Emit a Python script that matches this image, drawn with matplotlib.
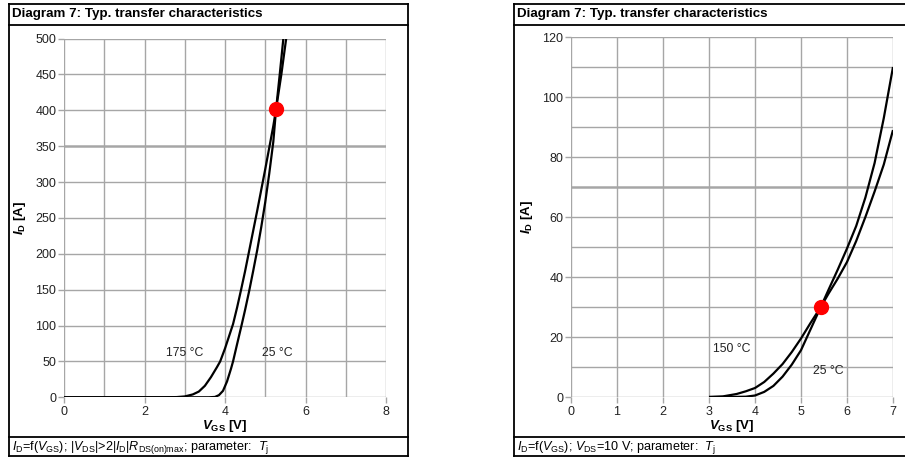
import matplotlib
matplotlib.use("Agg")
import matplotlib.pyplot as plt
from matplotlib.lines import Line2D

plt.rcParams['font.family'] = ['Liberation Sans', 'DejaVu Sans']
plt.rcParams['mathtext.fontset'] = 'custom'
plt.rcParams['mathtext.rm'] = 'Liberation Sans'
plt.rcParams['mathtext.it'] = 'Liberation Sans:italic'
plt.rcParams['mathtext.bf'] = 'Liberation Sans:bold'
plt.rcParams['mathtext.bfit'] = 'Liberation Sans:bold:italic'

# ---------------- data: left diagram ----------------
title = "Diagram 7: Typ. transfer characteristics"
l_vgs_25 = [0, 3.0, 3.6, 3.75, 3.85, 3.95, 4.05, 4.15, 4.2, 4.3, 4.41, 4.5, 4.6, 4.7, 4.8, 4.9, 5.0, 5.1, 5.2, 5.27, 5.36, 5.45]
l_id_25 = [0, 0, 0, 0.5, 3, 9, 22, 40, 50, 74, 100, 122, 148, 176, 205, 237, 272, 312, 356, 402, 450, 500]
l_vgs_175 = [0, 2.5, 2.8, 3.0, 3.2, 3.35, 3.5, 3.65, 3.8, 3.88, 4.0, 4.1, 4.2, 4.3, 4.4, 4.5, 4.6, 4.7, 4.8, 4.9, 5.0, 5.1, 5.2, 5.27, 5.4, 5.52]
l_id_175 = [0, 0, 0.3, 1.2, 4, 8, 16, 28, 42, 50, 68, 85, 102, 125, 150, 176, 204, 232, 260, 289, 318, 348, 378, 402, 450, 500]
l_dot = (5.27, 402)
l_xticks = [0, 2, 4, 6, 8]
l_yticks = [0, 50, 100, 150, 200, 250, 300, 350, 400, 450, 500]
l_labels = [("175 °C", 3.0, 62), ("25 °C", 5.3, 62)]
l_footer = r"$\mathit{I}_{\mathrm{D}}$=f($\mathit{V}_{\mathrm{GS}}$); |$\mathit{V}_{\mathrm{DS}}$|>2|$\mathit{I}_{\mathrm{D}}$|$\mathit{R}_{\mathrm{DS(on)max}}$; parameter:  $\mathit{T}_{\mathrm{j}}$"

# ---------------- data: right diagram ----------------
r_vgs_25 = [3.0, 3.5, 3.8, 4.0, 4.2, 4.4, 4.6, 4.8, 5.0, 5.2, 5.43, 5.6, 5.8, 6.0, 6.2, 6.4, 6.6, 6.8, 7.0]
r_id_25 = [0, 0.02, 0.1, 0.5, 1.7, 3.7, 6.8, 10.8, 15.6, 22.3, 30, 35.8, 42.5, 49.5, 57, 66.5, 78, 93, 110]
r_vgs_150 = [3.0, 3.3, 3.6, 3.8, 4.0, 4.2, 4.4, 4.6, 4.8, 5.0, 5.2, 5.43, 5.6, 5.8, 6.0, 6.2, 6.4, 6.6, 6.8, 7.0]
r_id_150 = [0, 0.2, 1.0, 1.9, 3.0, 5.0, 7.8, 11, 15, 19.5, 24.5, 30, 34.5, 39.5, 45, 52, 60, 68.5, 77.5, 89]
r_dot = (5.43, 30)
r_xticks = [0, 1, 2, 3, 4, 5, 6, 7]
r_yticks = [0, 20, 40, 60, 80, 100, 120]
r_labels = [("150 °C", 3.5, 16), ("25 °C", 5.6, 8.8)]
r_footer = r"$\mathit{I}_{\mathrm{D}}$=f($\mathit{V}_{\mathrm{GS}}$); $\mathit{V}_{\mathrm{DS}}$=10 V; parameter:  $\mathit{T}_{\mathrm{j}}$"

W, H = 905, 457
fig = plt.figure(figsize=(W / 100, H / 100), dpi=100)
fig.patch.set_facecolor('white')

GRID = '#a6a6a6'


def fx(px):
    return px / W


def fy(py):
    return 1 - py / H


def frame(x0, x1, right_line=True):
    kw = dict(transform=fig.transFigure, color='black', lw=1.3)
    for yy in (4, 25, 437, 456):
        fig.add_artist(Line2D([fx(x0), fx(x1)], [fy(yy), fy(yy)], **kw))
    fig.add_artist(Line2D([fx(x0), fx(x0)], [fy(4), fy(456)], **kw))
    if right_line:
        fig.add_artist(Line2D([fx(x1), fx(x1)], [fy(4), fy(456)], **kw))


def panel(px0, px1, py0, py1, xmax, ymax, xgrid, ygrid, xticks, yticks,
          curves, dot, labels, thick_y, ylabel_x, xlabel_y):
    ax = fig.add_axes([fx(px0), fy(py1), fx(px1) - fx(px0), fy(py0) - fy(py1)])
    ax.set_xlim(0, xmax)
    ax.set_ylim(0, ymax)
    for s in ax.spines.values():
        s.set_visible(False)
    for g in xgrid:
        ax.axvline(g, color=GRID, lw=1.0, zorder=1)
    for g in ygrid:
        ax.axhline(g, color=GRID, lw=1.8 if g == thick_y else 1.0, zorder=1)
    ax.set_xticks(xticks)
    ax.set_yticks(yticks)
    ax.set_xticklabels([str(t) for t in xticks])
    ax.set_yticklabels([str(t) for t in yticks])
    ax.tick_params(axis='both', color=GRID, length=4, width=1.0, labelsize=9,
                   labelcolor='#222222', pad=1.5)
    ax.tick_params(axis='x', pad=2.5)
    for xs, ys in curves:
        ax.plot(xs, ys, color='black', lw=1.6, zorder=3, solid_capstyle='butt')
    ax.plot([dot[0]], [dot[1]], 'o', color='#ff0000', ms=10, zorder=4)
    for txt, x, y in labels:
        ax.text(x, y, txt, fontsize=8.8, ha='center', va='center', color='#222222', zorder=5)
    ax.set_xlabel(r"$\mathbfit{V}_{\mathbf{GS}}$ [V]", fontsize=9.5, fontweight='bold', va='center')
    ax.xaxis.set_label_coords(0.5, -(xlabel_y - py1) / (py1 - py0))
    ax.set_ylabel(r"$\mathbfit{I}_{\mathbf{D}}$ [A]", fontsize=9.5, fontweight='bold', va='center')
    ax.yaxis.set_label_coords(-(px0 - ylabel_x) / (px1 - px0), 0.5)
    return ax


# left panel
frame(9, 408)
fig.text(fx(12), fy(14.5), title, fontsize=9.6, fontweight='bold', ha='left', va='center')
fig.text(fx(12), fy(447), l_footer, fontsize=9.1, ha='left', va='center')
panel(64, 386, 38.5, 397.3, 8, 500, range(0, 9), range(0, 501, 50), l_xticks, l_yticks,
      [(l_vgs_25, l_id_25), (l_vgs_175, l_id_175)], l_dot, l_labels, 350, 20, 426)

# right panel
frame(514, 906, right_line=False)
fig.text(fx(517), fy(14.5), title, fontsize=9.6, fontweight='bold', ha='left', va='center')
fig.text(fx(517), fy(447), r_footer, fontsize=9.1, ha='left', va='center')
panel(571, 893, 37, 397, 7, 120, range(0, 8), range(0, 121, 10), r_xticks, r_yticks,
      [(r_vgs_25, r_id_25), (r_vgs_150, r_id_150)], r_dot, r_labels, 70, 527, 426)

fig.savefig("out.png", dpi=100, facecolor='white')
